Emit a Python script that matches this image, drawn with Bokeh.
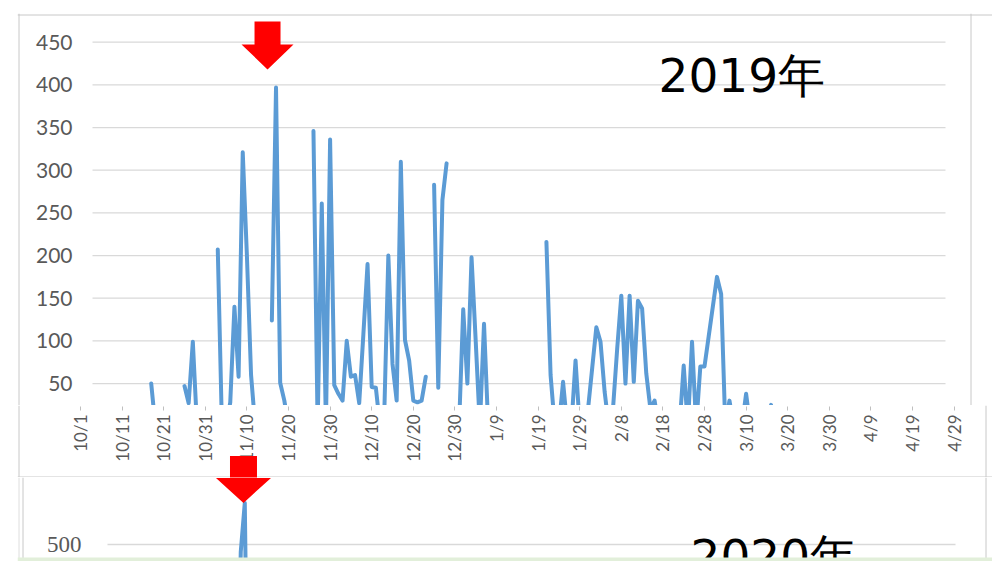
import math
import numpy as np
from bokeh.plotting import figure
from bokeh.layouts import column
from bokeh.models import Range1d, FixedTicker, Span, BoxAnnotation
from bokeh.core.properties import value
from bokeh.embed import file_html
from bokeh.resources import INLINE

N = None

# ---------------- data ----------------
# 2019 season, one value per day starting 10/1 (day 0); None = no data
counts_2019 = (
    [N] * 17
    + [50, 0]
    + [N] * 6
    + [47, 27, 99, 0]
    + [N] * 4
    + [207, 0, 0, 28, 140, 58, 321, 200, 60, 0]
    + [N] * 3
    + [124, 397, 51, 30, 0]
    + [N] * 5
    + [346, 0, 261, 0, 336, 48, 38, 30, 100, 58, 60, 27, 108, 190, 46, 45, 0, 10,
       200, 73, 30, 310, 101, 77, 30, 28, 30, 58]
    + [N]
    + [283, 45, 265, 308]
    + [N] * 2
    + [0, 137, 50, 198, 100, 0, 120, 0]
    + [N] * 13
    + [216, 60, 0, 0, 52, 0, 0, 77, 0, 0, 20, 68, 116, 99, 40, 0, 20, 90, 153, 50,
       153, 52, 147, 138, 62, 20, 30, 0]
    + [N] * 4
    + [0, 71, 0, 99, 0, 70, 70, 105, 140, 175, 155, 0, 30, 0]
    + [N]
    + [0, 38, 0]
    + [N] * 3
    + [0, 25, 0]
)
days_2019 = list(range(len(counts_2019)))
y_ticks_2019 = [50, 100, 150, 200, 250, 300, 350, 400, 450]

tick_days = list(range(0, 211, 10))
tick_labels = ["10/1", "10/11", "10/21", "10/31", "11/10", "11/20", "11/30",
               "12/10", "12/20", "12/30", "1/9", "1/19", "1/29", "2/8", "2/18",
               "2/28", "3/10", "3/20", "3/30", "4/9", "4/19", "4/29"]

# 2020 season (only the part visible in the cut-off lower chart)
days_2020 = [32, 33, 34, 35, 36]
counts_2020 = [200, 490, 557, 120, 60]
y_ticks_2020 = [500, 600]

title_2019 = "2019年"
title_2020 = "2020年"

# ---------------- styling ----------------
BLUE = "#5b9bd5"
GRID = "#d9d9d9"
BORDER = "#c8c8c8"
LABEL = "#595959"

# page-pixel <-> data helpers (layout only)
A_X0, A_PXD = 80.0, 4.16          # top chart: page x of day 0, px per day
A_Y0, A_PXV = 425.7, 0.8533       # top chart: page y of value 0, px per unit
def ax(px): return (px - A_X0) / A_PXD
def ay(py): return (A_Y0 - py) / A_PXV
def ax_px(d): return A_X0 + A_PXD * d
def ay_px(v): return A_Y0 - A_PXV * v

B_X0, B_PXD = 107.0, 4.038
B_Y500, B_PXV = 544.0, 0.73
def bx(px): return (px - B_X0) / B_PXD
def by(py): return 500 + (B_Y500 - py) / B_PXV
def bx_px(d): return B_X0 + B_PXD * d
def by_px(v): return B_Y500 - B_PXV * (v - 500)

W = 992
LEFT = 17                 # common frame left edge for all three panels
A_H = 405
S_TOP, S_BOT = 405, 477
PAGE_H = 561
def sy(py): return S_BOT - py

def arrow(tx, ty, head_half, head_h, shaft_half, shaft_h):
    xs = [tx, tx - head_half, tx - shaft_half, tx - shaft_half,
          tx + shaft_half, tx + shaft_half, tx + head_half]
    ys = [ty, ty - head_h, ty - head_h, ty - head_h - shaft_h,
          ty - head_h - shaft_h, ty - head_h, ty - head_h]
    return xs, ys

def common(p):
    p.outline_line_color = None
    p.grid.visible = False
    p.background_fill_color = "white"
    p.border_fill_color = "white"

# ---------------- top chart (2019) ----------------
pA = figure(width=W, height=A_H, output_backend="svg", toolbar_location=None,
            x_range=Range1d(ax(LEFT), ax(W)), y_range=Range1d(ay(A_H), ay(13)),
            x_axis_location=None, y_axis_location="left",
            min_border_left=LEFT, min_border_right=0, min_border_top=13, min_border_bottom=0)
common(pA)
yaA = pA.yaxis[0]
yaA.fixed_location = ax(92)
yaA.ticker = FixedTicker(ticks=y_ticks_2019)
yaA.axis_line_color = None
yaA.major_tick_line_color = None
yaA.minor_tick_line_color = None
yaA.major_tick_out = 0
yaA.major_tick_in = 0
yaA.major_label_standoff = 20
yaA.major_label_text_font = "Lato"
yaA.major_label_text_font_size = "21px"
yaA.major_label_text_color = LABEL

pA.segment(x0=ax(92), x1=ax(945), y0=y_ticks_2019, y1=y_ticks_2019,
           line_color=GRID, line_width=1.3)
pA.line(days_2019, np.array(counts_2019, dtype=float), line_color=BLUE,
        line_width=4, line_join="round", line_cap="round")

peakA = int(np.nanargmax(np.array(counts_2019, dtype=float)))
tx, ty = ax_px(peakA) - 8.5, ay_px(counts_2019[peakA]) - 18
axs, ays = arrow(tx, ty, 26, 25, 13, 23)
pA.patch([ax(v) for v in axs], [ay(v) for v in ays], fill_color="#ff0000", line_color=None)

pA.text(x=[ax(658)], y=[ay(75)], text=[title_2019], text_font=value("DejaVu Sans"),
        text_font_size="47px", text_color="black", text_baseline="alphabetic",
        text_align="left")

for loc in (ax(18.5), ax(970.5)):
    pA.add_layout(Span(location=loc, dimension="height", line_color=BORDER, line_width=1))
pA.add_layout(Span(location=ay(14.5), dimension="width", line_color=BORDER, line_width=1))

# ---------------- x-axis strip ----------------
pS = figure(width=W, height=S_BOT - S_TOP, output_backend="svg", toolbar_location=None,
            x_range=Range1d(ax(LEFT), ax(W)), y_range=Range1d(0, S_BOT - S_TOP),
            x_axis_location="below", y_axis_location=None,
            min_border_left=LEFT, min_border_right=0, min_border_top=0, min_border_bottom=0)
common(pS)
xa = pS.xaxis[0]
xa.fixed_location = sy(406)
xa.ticker = FixedTicker(ticks=tick_days)
xa.major_label_overrides = {d: lab for d, lab in zip(tick_days, tick_labels)}
xa.axis_line_color = None
xa.major_tick_line_color = "#bfbfbf"
xa.minor_tick_line_color = None
xa.major_tick_out = 4
xa.major_tick_in = 0
xa.major_label_orientation = math.pi / 2
xa.major_label_standoff = 4
xa.major_label_text_font = "Lato"
xa.major_label_text_font_size = "17px"
xa.major_label_text_color = LABEL

for loc in (ax(18.5), ax(985.5)):
    pS.add_layout(Span(location=loc, dimension="height", line_color=BORDER, line_width=1))
pS.add_layout(Span(location=sy(476.5), dimension="width", line_color=BORDER, line_width=1))

# upper part of the 2020 arrow that overlaps the strip
tbx, tby = bx_px(34) - 1.3, by_px(557)
bxs, bys = arrow(tbx, tby, 27.5, 25, 13.5, 22)
pS.add_layout(BoxAnnotation(left=ax(bxs[2]), right=ax(bxs[4]), bottom=0,
                            top=sy(bys[3]), fill_color="#ff0000", fill_alpha=1,
                            line_alpha=0))

# ---------------- lower chart (2020, cut off) ----------------
pB = figure(width=W, height=PAGE_H - S_BOT, output_backend="svg", toolbar_location=None,
            x_range=Range1d(bx(LEFT), bx(W)), y_range=Range1d(by(PAGE_H), by(S_BOT)),
            x_axis_location=None, y_axis_location="left",
            min_border_left=LEFT, min_border_right=0, min_border_top=0, min_border_bottom=0)
common(pB)
yaB = pB.yaxis[0]
yaB.fixed_location = bx(107)
yaB.ticker = FixedTicker(ticks=y_ticks_2020)
yaB.axis_line_color = None
yaB.major_tick_line_color = None
yaB.minor_tick_line_color = None
yaB.major_tick_out = 0
yaB.major_tick_in = 0
yaB.major_label_standoff = 26
yaB.major_label_text_font = "Liberation Serif"
yaB.major_label_text_font_size = "23px"
yaB.major_label_text_color = LABEL

pB.segment(x0=bx(107), x1=bx(955), y0=y_ticks_2020, y1=y_ticks_2020,
           line_color=GRID, line_width=1.3)
pB.line(days_2020, counts_2020, line_color=BLUE, line_width=4,
        line_join="round", line_cap="round")
pB.patch([bx(v) for v in bxs], [by(v) for v in bys], fill_color="#ff0000", line_color=None)
pB.text(x=[bx(690)], y=[by(528)], text=[title_2020], text_font=value("DejaVu Sans"),
        text_font_size="47px", text_color="black", text_baseline="top",
        text_align="left")

pB.add_layout(Span(location=bx(18.5), dimension="height", line_color="#dedede", line_width=1))
pB.add_layout(Span(location=bx(22.5), dimension="height", line_color=BORDER, line_width=1))
pB.add_layout(Span(location=bx(985.5), dimension="height", line_color=BORDER, line_width=1))
pB.add_layout(BoxAnnotation(bottom=by(PAGE_H + 1), top=by(557), fill_color="#e2efda",
                            fill_alpha=1, line_alpha=0))

layout = column(pA, pS, pB, spacing=0)
open("out.html", "w").write(file_html(layout, INLINE))
